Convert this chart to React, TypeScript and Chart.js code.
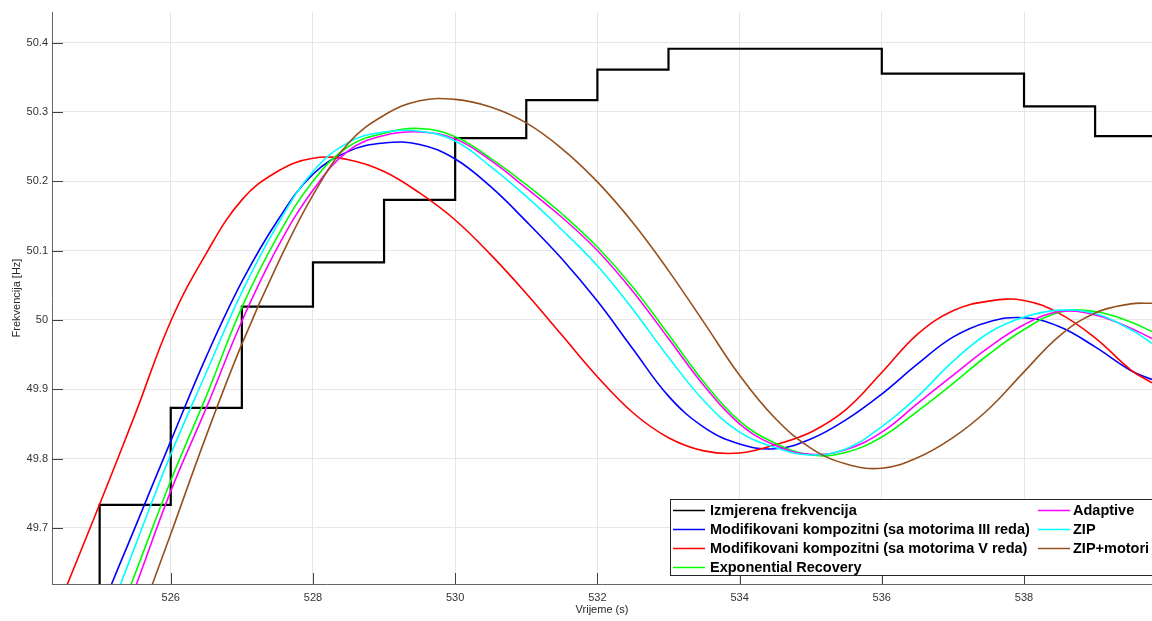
import React, { useEffect, useRef } from "react";
import { Chart, registerables } from "chart.js";

Chart.register(...registerables);

// ---- Data ----
const stepTimes = [524.33, 525, 526, 527, 528, 529, 530, 531, 532, 533, 534, 535, 536, 537, 538, 539, 539.8];
const measuredFreq = [49.55, 49.733, 49.873, 50.019, 50.083, 50.173, 50.262, 50.317, 50.361, 50.391, 50.391, 50.391, 50.355, 50.355, 50.308, 50.265, 50.265];

const simTimes = [524.5, 525, 525.5, 526, 526.5, 527, 527.5, 528, 528.5, 529, 529.5, 530, 530.5, 531, 531.5, 532, 532.5, 533, 533.5, 534, 534.5, 535, 535.5, 536, 536.5, 537, 537.5, 538, 538.5, 539, 539.5, 539.8];

const modKompIII = [49.43, 49.575, 49.701, 49.825, 49.947, 50.055, 50.143, 50.21, 50.243, 50.255, 50.253, 50.232, 50.192, 50.142, 50.088, 50.027, 49.958, 49.89, 49.845, 49.821, 49.814, 49.828, 49.856, 49.893, 49.936, 49.975, 49.997, 50.003, 49.99, 49.961, 49.927, 49.914];
const modKompV = [49.607, 49.734, 49.864, 49.998, 50.096, 50.173, 50.214, 50.233, 50.231, 50.214, 50.183, 50.144, 50.094, 50.038, 49.978, 49.918, 49.866, 49.83, 49.811, 49.808, 49.82, 49.838, 49.871, 49.924, 49.979, 50.013, 50.027, 50.028, 50.009, 49.974, 49.928, 49.909];
const expRecovery = [49.37, 49.5, 49.634, 49.768, 49.89, 50.018, 50.12, 50.2, 50.25, 50.269, 50.276, 50.264, 50.233, 50.195, 50.153, 50.105, 50.047, 49.979, 49.91, 49.854, 49.822, 49.805, 49.809, 49.831, 49.868, 49.908, 49.95, 49.986, 50.011, 50.012, 49.997, 49.983];
const adaptive = [49.34, 49.48, 49.614, 49.753, 49.873, 49.998, 50.104, 50.187, 50.244, 50.266, 50.271, 50.261, 50.23, 50.19, 50.148, 50.1, 50.041, 49.973, 49.905, 49.85, 49.819, 49.806, 49.813, 49.838, 49.879, 49.92, 49.96, 49.993, 50.012, 50.007, 49.988, 49.973];
const zip = [49.41, 49.54, 49.674, 49.806, 49.924, 50.04, 50.137, 50.214, 50.256, 50.271, 50.272, 50.258, 50.221, 50.178, 50.13, 50.078, 50.015, 49.946, 49.883, 49.838, 49.816, 49.805, 49.814, 49.846, 49.889, 49.94, 49.981, 50.004, 50.014, 50.009, 49.986, 49.966];
const zipMotori = [49.3, 49.4, 49.55, 49.691, 49.833, 49.965, 50.08, 50.18, 50.255, 50.295, 50.316, 50.318, 50.307, 50.284, 50.247, 50.199, 50.14, 50.071, 49.996, 49.92, 49.858, 49.815, 49.792, 49.786, 49.801, 49.83, 49.871, 49.925, 49.977, 50.01, 50.023, 50.024];

const seriesLabels = [
  "Izmjerena frekvencija",
  "Modifikovani kompozitni (sa motorima III reda)",
  "Modifikovani kompozitni (sa motorima V reda)",
  "Exponential Recovery",
  "Adaptive",
  "ZIP",
  "ZIP+motori",
];
const seriesColors = ["#000000", "#0000ff", "#ff0000", "#00ff00", "#ff00ff", "#00ffff", "#96501e"];

const xTickValues = [526, 528, 530, 532, 534, 536, 538];
const yTickValues = [49.7, 49.8, 49.9, 50.0, 50.1, 50.2, 50.3, 50.4];
const yTickLabels = ["49.7", "49.8", "49.9", "50", "50.1", "50.2", "50.3", "50.4"];

const xMin = 524.33;
const xMax = 539.8;
const yMin = 49.619;
const yMax = 50.444;

const FONT = '"Liberation Sans", Arial, Helvetica, sans-serif';

const toPoints = (xs: number[], ys: number[]) => xs.map((x, i) => ({ x, y: ys[i] }));

const innerTicksPlugin = {
  id: "innerTicks",
  afterDatasetsDraw(chart: any) {
    const { ctx, chartArea, scales } = chart;
    const len = 11;
    ctx.save();
    ctx.strokeStyle = "#404040";
    ctx.lineWidth = 1;
    ctx.beginPath();
    scales.x.ticks.forEach((t: any) => {
      const px = Math.round(scales.x.getPixelForValue(t.value)) + 0.5;
      ctx.moveTo(px, chartArea.bottom);
      ctx.lineTo(px, chartArea.bottom - len);
    });
    scales.y.ticks.forEach((t: any) => {
      const py = Math.round(scales.y.getPixelForValue(t.value)) + 0.5;
      ctx.moveTo(chartArea.left, py);
      ctx.lineTo(chartArea.left + len, py);
    });
    ctx.stroke();
    ctx.restore();
  },
};

const legendPlugin = {
  id: "matlabLegend",
  afterDraw(chart: any) {
    const { ctx } = chart;
    const ds = chart.data.datasets;
    ctx.save();
    const boxX = 670.5;
    const boxY = 499.5;
    const boxW = 500;
    const boxH = 76;
    ctx.fillStyle = "#ffffff";
    ctx.fillRect(boxX, boxY, boxW, boxH);
    ctx.strokeStyle = "#262626";
    ctx.lineWidth = 1;
    ctx.strokeRect(boxX, boxY, boxW, boxH);
    ctx.font = `bold 14.5px ${FONT}`;
    ctx.textBaseline = "middle";
    ctx.textAlign = "left";
    ds.forEach((d: any, i: number) => {
      const col = i < 4 ? 0 : 1;
      const row = i < 4 ? i : i - 4;
      const lx = col === 0 ? 673 : 1038;
      const y = 510 + row * 19;
      ctx.strokeStyle = d.borderColor;
      ctx.lineWidth = 1.5;
      ctx.beginPath();
      ctx.moveTo(lx, y + 0.5);
      ctx.lineTo(lx + 32, y + 0.5);
      ctx.stroke();
      ctx.fillStyle = "#000000";
      ctx.fillText(d.label, i < 4 ? 710 : 1073, y + 1);
    });
    ctx.restore();
  },
};

export default function App() {
  const canvasRef = useRef<HTMLCanvasElement | null>(null);

  useEffect(() => {
    if (!canvasRef.current) return;
    const simSeries = [modKompIII, modKompV, expRecovery, adaptive, zip, zipMotori];
    const datasets: any[] = [
      {
        label: seriesLabels[0],
        data: toPoints(stepTimes, measuredFreq),
        borderColor: seriesColors[0],
        backgroundColor: seriesColors[0],
        borderWidth: 2.2,
        pointRadius: 0,
        stepped: "before",
        fill: false,
        order: 7,
      },
      ...simSeries.map((vals, i) => ({
        label: seriesLabels[i + 1],
        data: toPoints(simTimes, vals),
        borderColor: seriesColors[i + 1],
        backgroundColor: seriesColors[i + 1],
        borderWidth: 1.6,
        pointRadius: 0,
        tension: 0.4,
        fill: false,
        order: 6 - i,
      })),
    ];

    const chart = new Chart(canvasRef.current, {
      type: "line",
      data: { datasets },
      options: {
        animation: false,
        responsive: false,
        devicePixelRatio: 1,
        layout: { padding: { top: 12, right: 0, bottom: 0, left: 0 } },
        plugins: {
          legend: { display: false },
          tooltip: { enabled: false },
          title: { display: false },
        },
        scales: {
          x: {
            type: "linear",
            min: xMin,
            max: xMax,
            afterBuildTicks: (scale: any) => {
              scale.ticks = xTickValues.map((v) => ({ value: v }));
            },
            afterFit: (scale: any) => {
              scale.height = 37;
            },
            ticks: {
              autoSkip: false,
              maxRotation: 0,
              padding: 7,
              color: "#333333",
              font: { family: FONT, size: 11 },
              callback: (value: any) => String(value),
            },
            grid: { color: "#e6e6e6", drawTicks: false, lineWidth: 1 },
            border: { display: true, color: "#666666", width: 1 },
            title: {
              display: true,
              text: "Vrijeme (s)",
              color: "#262626",
              font: { family: FONT, size: 11 },
              padding: { top: 0, bottom: 4 },
            },
          },
          y: {
            type: "linear",
            min: yMin,
            max: yMax,
            afterBuildTicks: (scale: any) => {
              scale.ticks = yTickValues.map((v) => ({ value: v }));
            },
            afterFit: (scale: any) => {
              scale.width = 52;
            },
            ticks: {
              autoSkip: false,
              padding: 4,
              color: "#333333",
              font: { family: FONT, size: 11 },
              callback: (_value: any, index: number) => yTickLabels[index],
            },
            grid: { color: "#e6e6e6", drawTicks: false, lineWidth: 1 },
            border: { display: true, color: "#666666", width: 1 },
            title: {
              display: true,
              text: "Frekvencija [Hz]",
              color: "#262626",
              font: { family: FONT, size: 11 },
              padding: { top: 10, bottom: 0 },
            },
          },
        },
      },
      plugins: [innerTicksPlugin, legendPlugin],
    });

    return () => {
      chart.destroy();
    };
  }, []);

  return (
    <div style={{ position: "fixed", left: 0, top: 0, width: 1152, height: 621, background: "#ffffff" }}>
      <canvas ref={canvasRef} width={1152} height={621} style={{ display: "block" }} />
    </div>
  );
}
